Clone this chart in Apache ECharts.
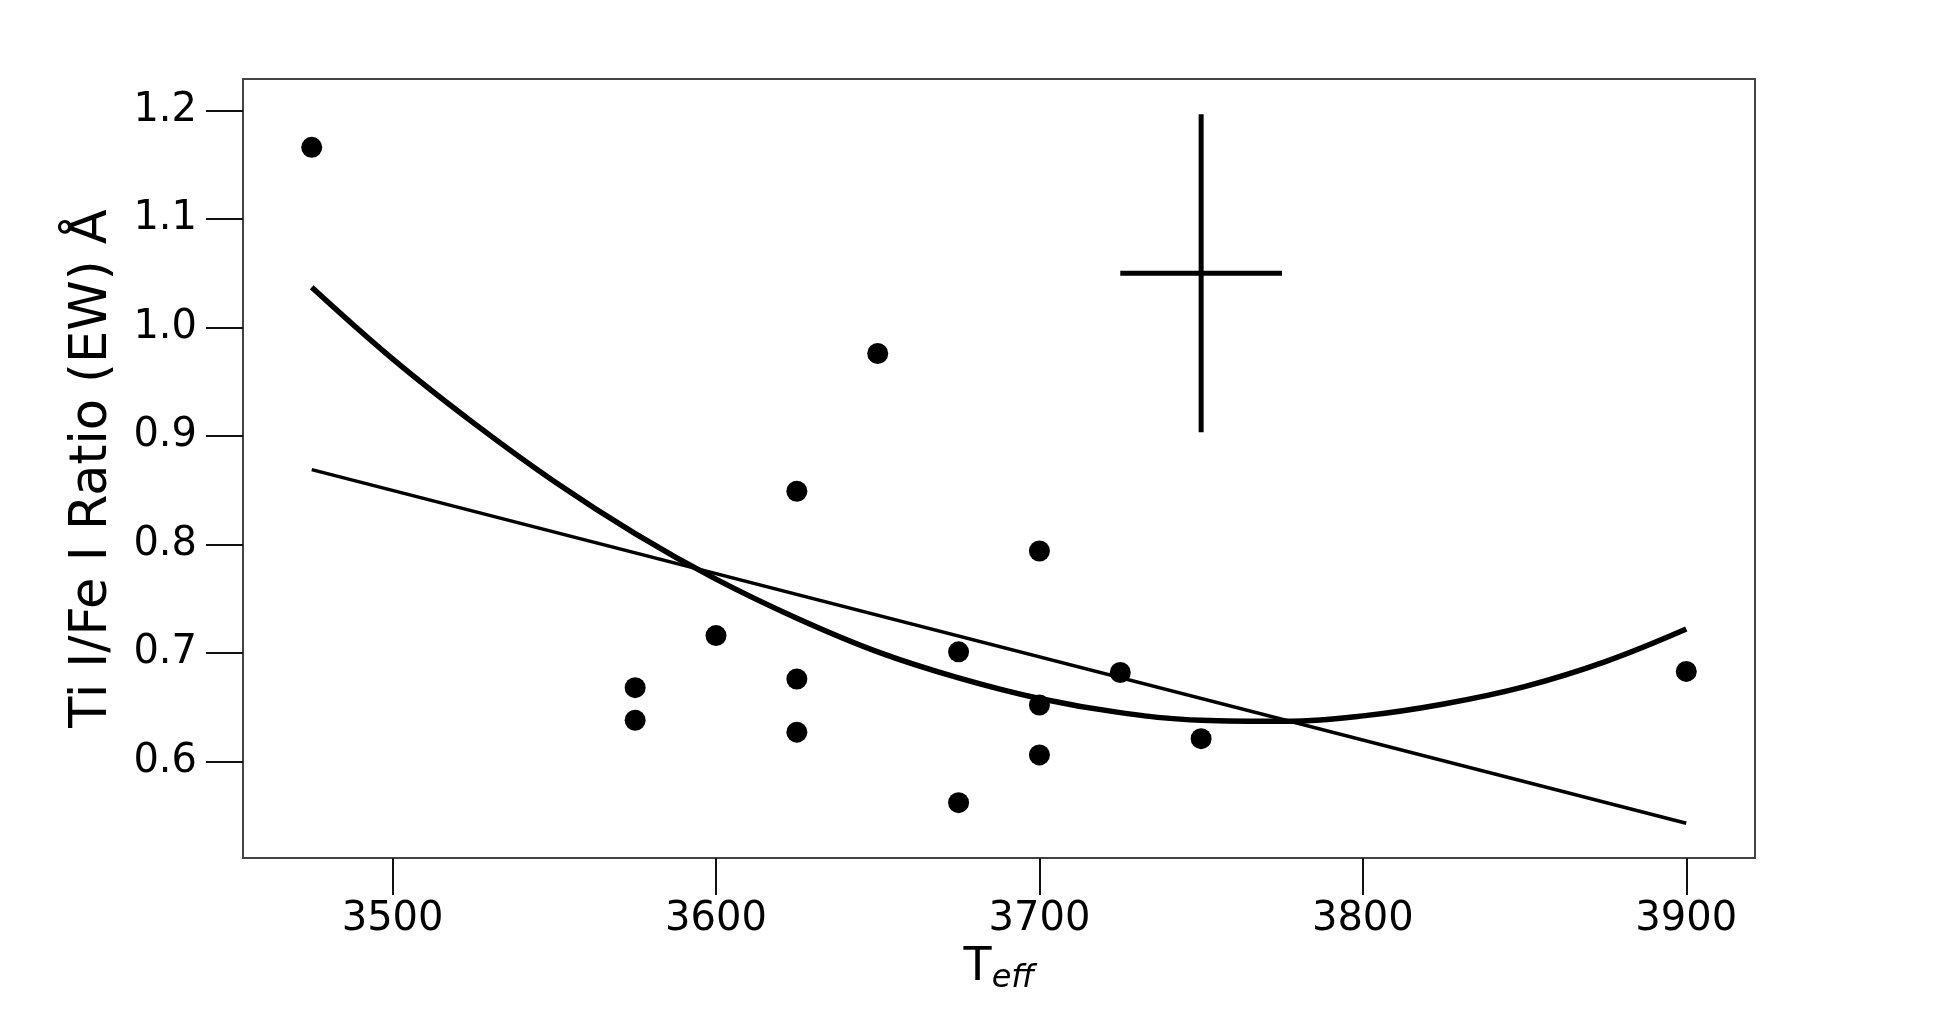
<!DOCTYPE html>
<html>
<head>
<meta charset="utf-8">
<script src="https://cdn.jsdelivr.net/npm/echarts@6/dist/echarts.min.js"></script>
<style>
  html, body { margin: 0; padding: 0; background: #fff; }
  #chart { width: 1950px; height: 1011px; }
</style>
</head>
<body>
<div id="chart"></div>
<script>
// measured Teff / line ratio pairs
const teff = [3475, 3575, 3575, 3600, 3625, 3625, 3625, 3650, 3675, 3675, 3700, 3700, 3700, 3725, 3750, 3900];
const ratio = [1.166, 0.668, 0.638, 0.716, 0.849, 0.676, 0.627, 0.976, 0.701, 0.562, 0.794, 0.652, 0.606, 0.682, 0.621, 0.683];

// linear fit, end points
const linTeff = [3475, 3900];
const linRatio = [0.869, 0.543];

// quadratic fit, sampled off the figure
const quadTeff = [3475, 3500, 3525, 3550, 3575, 3600, 3625, 3650, 3675, 3700, 3725, 3750, 3775, 3800, 3825, 3850, 3875, 3900];
const quadRatio = [1.037, 0.971, 0.912, 0.858, 0.810, 0.768, 0.732, 0.701, 0.677, 0.658, 0.645, 0.638, 0.637, 0.642, 0.653, 0.669, 0.692, 0.722];

// typical error bar
const errCenter = [3750, 1.05];
const errTeff = 25;
const errRatio = 0.1465;

// axis ticks and limits
const xTicks = [3500, 3600, 3700, 3800, 3900];
const yTicks = [0.6, 0.7, 0.8, 0.9, 1.0, 1.1, 1.2];
const xRange = [3453.75, 3921.25];
const yRange = [0.511, 1.229];

const zip = (a, b) => a.map((v, i) => [v, b[i]]);

const chart = echarts.init(document.getElementById('chart'));
const font = 'DejaVu Sans';

chart.setOption({
  animation: false,
  backgroundColor: '#fff',
  grid: {
    left: 243, right: 195, top: 79, bottom: 153,
    show: true, borderColor: '#444', borderWidth: 2
  },
  xAxis: {
    type: 'value',
    min: xRange[0], max: xRange[1],
    splitLine: { show: false },
    axisLine: { show: false },
    axisTick: { show: true, length: 37, lineStyle: { color: '#111', width: 2 }, customValues: xTicks },
    axisLabel: {
      margin: 42, fontSize: 40, color: '#000', fontFamily: font,
      customValues: xTicks, formatter: v => String(v)
    },
    name: '{t|T}{s|eff}',
    nameLocation: 'middle',
    nameGap: 82,
    nameTextStyle: {
      rich: {
        t: { fontSize: 46, fontFamily: font, color: '#000' },
        s: { fontSize: 32, fontFamily: font, fontStyle: 'italic', color: '#000', padding: [22, 0, 0, 0] }
      }
    }
  },
  yAxis: {
    type: 'value',
    min: yRange[0], max: yRange[1],
    splitLine: { show: false },
    axisLine: { show: false },
    axisTick: { show: true, length: 37, lineStyle: { color: '#111', width: 2 }, customValues: yTicks },
    axisLabel: {
      margin: 46, fontSize: 40, color: '#000', fontFamily: font,
      customValues: yTicks, formatter: v => v.toFixed(1)
    },
    name: 'Ti I/Fe I Ratio (EW) Å',
    nameLocation: 'middle',
    nameGap: 125,
    nameTextStyle: { fontSize: 51, fontFamily: font, color: '#000' }
  },
  series: [
    {
      type: 'line', data: zip(linTeff, linRatio), symbol: 'none',
      lineStyle: { color: '#000', width: 3.5 }
    },
    {
      type: 'line', data: zip(quadTeff, quadRatio), symbol: 'none', smooth: 0.4,
      lineStyle: { color: '#000', width: 5.5 }
    },
    {
      type: 'line', symbol: 'none',
      data: [[errCenter[0], errCenter[1] - errRatio], [errCenter[0], errCenter[1] + errRatio]],
      lineStyle: { color: '#000', width: 5 }
    },
    {
      type: 'line', symbol: 'none',
      data: [[errCenter[0] - errTeff, errCenter[1]], [errCenter[0] + errTeff, errCenter[1]]],
      lineStyle: { color: '#000', width: 5 }
    },
    {
      type: 'scatter', data: zip(teff, ratio), symbol: 'circle', symbolSize: 21,
      itemStyle: { color: '#000', opacity: 1 }, z: 5
    }
  ]
});
</script>
</body>
</html>
